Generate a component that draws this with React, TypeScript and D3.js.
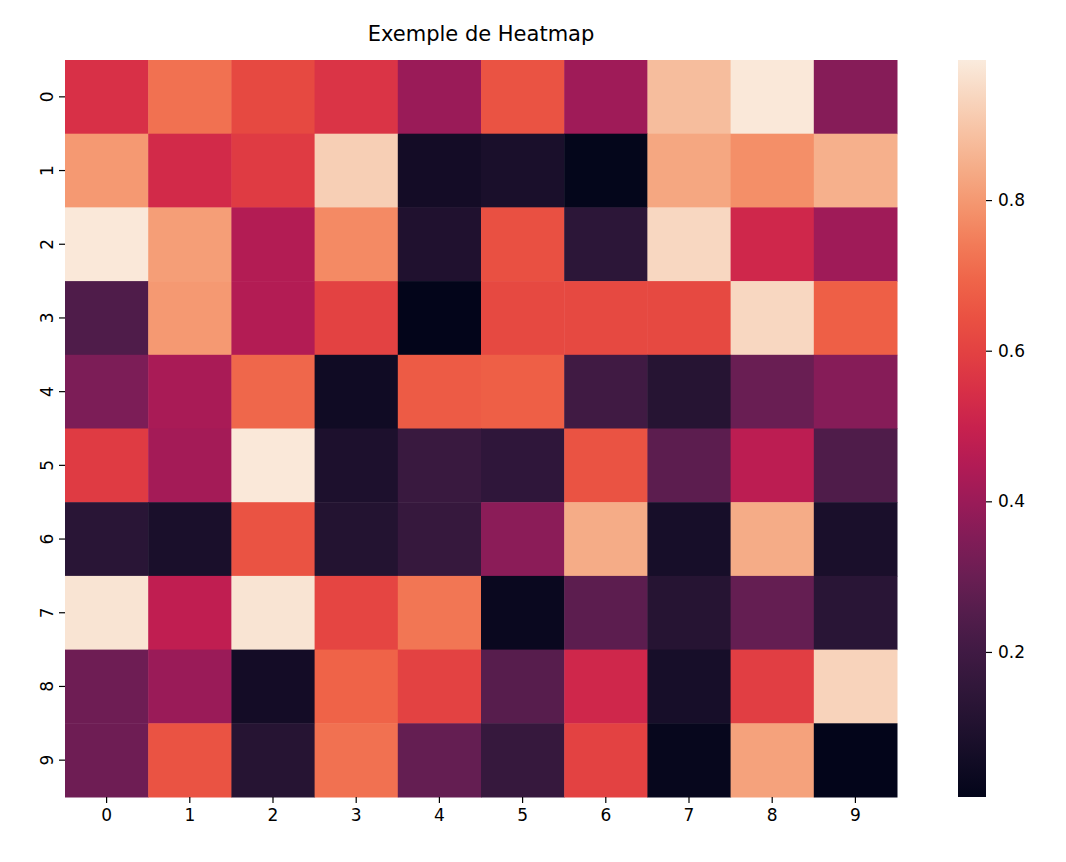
import { useEffect, useRef } from "react";
import * as d3 from "d3";

const ROWS = ["0", "1", "2", "3", "4", "5", "6", "7", "8", "9"];
const COLS = ["0", "1", "2", "3", "4", "5", "6", "7", "8", "9"];

const VALUES: number[][] = [
  [0.55, 0.72, 0.62, 0.56, 0.40, 0.65, 0.41, 0.88, 0.98, 0.36],
  [0.80, 0.53, 0.58, 0.92, 0.06, 0.08, 0.012, 0.83, 0.78, 0.85],
  [0.98, 0.81, 0.45, 0.77, 0.10, 0.64, 0.14, 0.94, 0.52, 0.41],
  [0.24, 0.80, 0.45, 0.60, 0.0074, 0.62, 0.62, 0.62, 0.94, 0.68],
  [0.34, 0.43, 0.70, 0.05, 0.67, 0.68, 0.20, 0.12, 0.30, 0.36],
  [0.58, 0.42, 0.98, 0.09, 0.18, 0.15, 0.65, 0.27, 0.47, 0.24],
  [0.13, 0.08, 0.65, 0.11, 0.17, 0.37, 0.84, 0.07, 0.84, 0.08],
  [0.97, 0.48, 0.97, 0.61, 0.73, 0.03, 0.27, 0.12, 0.29, 0.13],
  [0.31, 0.40, 0.06, 0.69, 0.60, 0.26, 0.52, 0.07, 0.59, 0.93],
  [0.31, 0.65, 0.12, 0.72, 0.29, 0.17, 0.60, 0.02, 0.82, 0.008],
];

const CBAR_TICKS = [0.2, 0.4, 0.6, 0.8];
const ROCKET = ["#03051A", "#221331", "#3F1B44", "#681F55", "#9A1A5B", "#CB1B4F",
  "#E4413F", "#F06043", "#F5966B", "#F6C1A1", "#FAEBDD"];

export default function App() {
  const ref = useRef<SVGSVGElement>(null);

  useEffect(() => {
    const svg = d3.select(ref.current);
    svg.selectAll("*").remove();
    const font = "DejaVu Sans";
    const L = 65, T = 60, R = 897, B = 797;

    const x = d3.scaleBand().domain(COLS).range([L, R]);
    const y = d3.scaleBand().domain(ROWS).range([T, B]);
    const vmin = 0.0074, vmax = 0.986;
    const interp = d3.interpolateRgbBasis(ROCKET);
    const color = (v: number) => interp((v - vmin) / (vmax - vmin));

    const cells = VALUES.flatMap((row, r) => row.map((v, c) => ({ r: ROWS[r], c: COLS[c], v })));
    svg.append("g").selectAll("rect").data(cells).join("rect")
      .attr("x", (d) => x(d.c)!).attr("y", (d) => y(d.r)!)
      .attr("width", x.bandwidth() + 0.5).attr("height", y.bandwidth() + 0.5)
      .attr("fill", (d) => color(d.v));

    const ax = svg.append("g").attr("transform", `translate(0,${B})`)
      .call(d3.axisBottom(x).tickSize(6).tickPadding(6));
    const ay = svg.append("g").attr("transform", `translate(${L},0)`)
      .call(d3.axisLeft(y).tickSize(6).tickPadding(6));
    ay.selectAll("text")
      .attr("x", null).attr("dy", null)
      .attr("transform", "translate(-12,0) rotate(-90)")
      .attr("text-anchor", "middle");

    // colorbar
    const cx = 958, cw = 28;
    const cy = d3.scaleLinear().domain([vmin, vmax]).range([B, T]);
    const defs = svg.append("defs");
    const grad = defs.append("linearGradient").attr("id", "cb").attr("x1", 0).attr("x2", 0).attr("y1", 1).attr("y2", 0);
    d3.range(0, 1.001, 0.05).forEach((t) => grad.append("stop").attr("offset", t).attr("stop-color", interp(t)));
    svg.append("rect").attr("x", cx).attr("y", T).attr("width", cw).attr("height", B - T).attr("fill", "url(#cb)");
    const ac = svg.append("g").attr("transform", `translate(${cx + cw},0)`)
      .call(d3.axisRight(cy).tickValues(CBAR_TICKS).tickFormat(d3.format(".1f")).tickSize(6).tickPadding(6));

    [ax, ay, ac].forEach((a) => {
      a.attr("font-size", null).attr("font-family", null);
      a.select(".domain").remove();
      a.selectAll("text").attr("font-family", font).attr("font-size", 17).attr("fill", "#000");
      a.selectAll("line").attr("stroke", "#000").attr("stroke-width", 1.2);
    });

    svg.append("text").attr("x", (L + R) / 2).attr("y", 41).attr("text-anchor", "middle")
      .attr("font-family", font).attr("font-size", 21).text("Exemple de Heatmap");
  }, []);

  return <svg ref={ref} width={1066} height={862} style={{ position: "absolute", left: 0, top: 0, background: "#fff" }} />;
}
